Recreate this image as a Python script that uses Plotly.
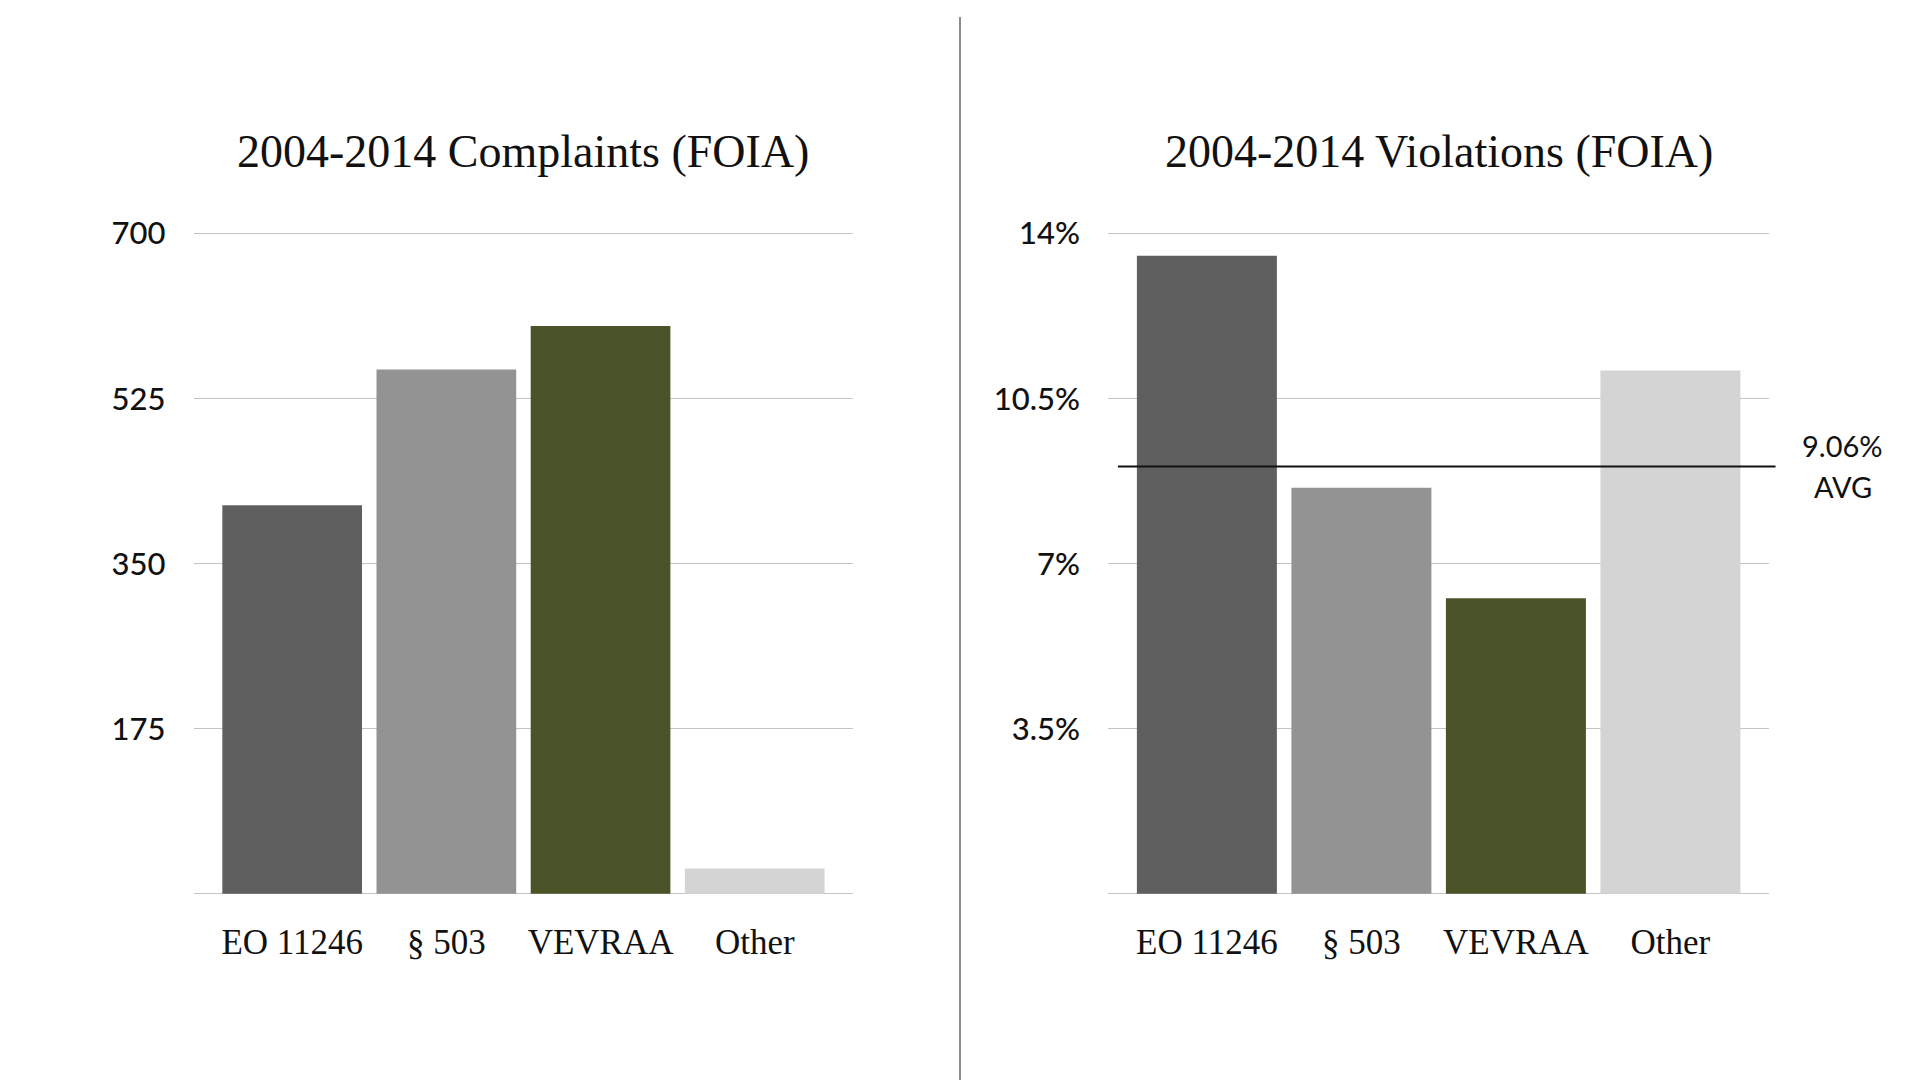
import plotly.graph_objects as go

categories = ["EO 11246", "§ 503", "VEVRAA", "Other"]
complaints = [412, 556, 602, 27]
violations = [13.53, 8.61, 6.27, 11.1]
avg_violation = 9.06
bar_colors = ["#5f5f5f", "#939393", "#4b5428", "#d4d4d4"]

left_ticks = [0, 175, 350, 525, 700]
left_ticktext = ["", "175", "350", "525", "700"]
right_ticks = [0, 3.5, 7, 10.5, 14]
right_ticktext = ["", "3.5%", "7%", "10.5%", "14%"]

titles = ["2004-2014 Complaints (FOIA)", "2004-2014 Violations (FOIA)"]

SERIF = "Liberation Serif, Times New Roman, serif"
SANS = "Lato, Inter, sans-serif"
GRID = "#c4c4c4"

W, H = 1920, 1080
# plot-area geometry in pixels
Y_TOP, Y_BOT = 220.1, 890.9
LX0, LX1 = 193.5, 853.4
RX0, RX1 = 1108.0, 1769.3
TITLE_Y = 137.0
PAD = 3.0  # so end gridlines get drawn
px_per_left = (Y_BOT - Y_TOP) / 700.0
px_per_right = (Y_BOT - Y_TOP) / 14.0

fig = go.Figure()
fig.add_trace(go.Bar(x=categories, y=complaints, marker=dict(color=bar_colors, line=dict(width=0)),
                     xaxis="x", yaxis="y", hoverinfo="skip"))
fig.add_trace(go.Bar(x=categories, y=violations, marker=dict(color=bar_colors, line=dict(width=0)),
                     xaxis="x2", yaxis="y2", hoverinfo="skip"))

xr = [-0.64, 3.64]
xcommon = dict(range=xr, showgrid=False, zeroline=False, showline=False, ticks="",
               tickfont=dict(family=SERIF, size=35, color="#111111"), ticklabelstandoff=21,
               fixedrange=True)
ycommon = dict(showgrid=True, gridcolor=GRID, gridwidth=1, zeroline=False, showline=False,
               ticks="", tickfont=dict(family=SANS, size=31, color="#111111", weight=500),
               ticklabelstandoff=27, tickmode="array", fixedrange=True)
ydom = [1 - (Y_BOT + PAD) / H, 1 - (Y_TOP - PAD) / H]

fig.update_layout(
    width=W, height=H,
    margin=dict(l=0, r=0, t=0, b=0, pad=0),
    paper_bgcolor="white", plot_bgcolor="white",
    showlegend=False, bargap=0.094,
    xaxis=dict(domain=[LX0/W, LX1/W], anchor="y", **xcommon),
    yaxis=dict(domain=ydom, anchor="x",
               range=[-PAD / px_per_left, 700 + PAD / px_per_left],
               tickvals=left_ticks, ticktext=left_ticktext, **ycommon),
    xaxis2=dict(domain=[RX0/W, RX1/W], anchor="y2", **xcommon),
    yaxis2=dict(domain=ydom, anchor="x2",
                range=[-PAD / px_per_right, 14 + PAD / px_per_right],
                tickvals=right_ticks, ticktext=right_ticktext, **ycommon),
)

for i, ax in enumerate(["x domain", "x2 domain"]):
    fig.add_annotation(text=titles[i], xref=ax, yref="paper", x=0.5, y=1 - TITLE_Y/H,
                       showarrow=False, xanchor="center", yanchor="middle",
                       font=dict(family=SERIF, size=46, color="#111111"))

# average line + label
fig.add_shape(type="line", xref="x2 domain", yref="y2",
              x0=0.015, x1=1.0094, y0=avg_violation, y1=avg_violation,
              line=dict(color="#111111", width=2))
fig.add_annotation(text=f"{avg_violation:.2f}%", xref="x2 domain", yref="y2", x=1.111, y=avg_violation,
                   yshift=21, showarrow=False, xanchor="center", yanchor="middle",
                   font=dict(family=SANS, size=29, color="#111111", weight=400))
fig.add_annotation(text="AVG", xref="x2 domain", yref="y2", x=1.111, y=avg_violation,
                   yshift=-20, showarrow=False, xanchor="center", yanchor="middle",
                   font=dict(family=SANS, size=29, color="#111111", weight=400))

# divider between the panels
fig.add_shape(type="line", xref="paper", yref="paper", x0=960/W, x1=960/W, y0=0, y1=1,
              line=dict(color="#8a8a8a", width=2))

fig.write_html(
    "out.html", config={"displayModeBar": False},
    post_script=(
        "var gd=document.getElementById('{plot_id}');"
        "gd.style.position='absolute';gd.style.top='0px';gd.style.left='0px';"
        "document.body.style.margin='0';document.body.style.padding='0';"
        "document.documentElement.style.overflow='hidden';"
    ),
)
